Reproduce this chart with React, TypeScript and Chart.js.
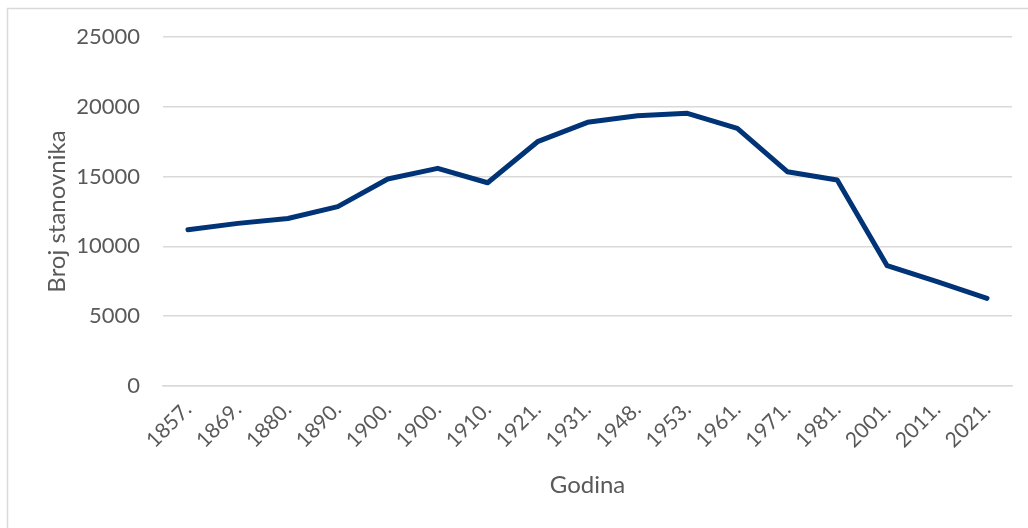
import React, { useEffect, useRef } from "react";
import { Chart, registerables } from "chart.js";

Chart.register(...registerables);

const categories: string[] = [
  "1857.", "1869.", "1880.", "1890.", "1900.", "1900.", "1910.", "1921.", "1931.",
  "1948.", "1953.", "1961.", "1971.", "1981.", "2001.", "2011.", "2021.",
];

const population: number[] = [
  11200, 11650, 12000, 12850, 14830, 15590, 14560, 17500, 18890,
  19360, 19530, 18460, 15350, 14760, 8620, 7470, 6280,
];

const yTicks: number[] = [0, 5000, 10000, 15000, 20000, 25000];

const FONT = "Lato, 'Open Sans', sans-serif";
const TEXT = "#595959";
const GRID = "#d9d9d9";

const frame = {
  id: "frame",
  beforeDraw(chart: any) {
    const ctx = chart.ctx;
    ctx.save();
    ctx.fillStyle = "#ffffff";
    ctx.fillRect(0, 0, chart.width, chart.height);
    ctx.strokeStyle = GRID;
    ctx.lineWidth = 1.5;
    ctx.strokeRect(7.5, 8.5, chart.width + 20, chart.height + 20);
    ctx.restore();
  },
};

export default function App() {
  const ref = useRef<HTMLCanvasElement | null>(null);

  useEffect(() => {
    document.body.style.margin = "0";
    if (!ref.current) return;
    const chart = new Chart(ref.current, {
      type: "line",
      data: {
        labels: categories,
        datasets: [
          {
            label: "Broj stanovnika",
            data: population,
            borderColor: "#003477",
            borderWidth: 5,
            pointRadius: 0,
            pointHoverRadius: 0,
            tension: 0,
            borderCapStyle: "round",
            borderJoinStyle: "round",
            fill: false,
          },
        ],
      },
      options: {
        animation: false,
        responsive: false,
        maintainAspectRatio: false,
        layout: { padding: { left: 0, top: 37, right: 16, bottom: 0 } },
        plugins: {
          legend: { display: false },
          tooltip: { enabled: false },
        },
        scales: {
          x: {
            offset: true,
            grid: { display: false, drawTicks: false },
            border: { display: true, color: GRID, width: 1.5 },
            ticks: {
              color: TEXT,
              font: { family: FONT, size: 21 },
              minRotation: 45,
              maxRotation: 45,
              autoSkip: false,
              padding: 11,
            },
            title: {
              display: true,
              text: "Godina",
              color: TEXT,
              font: { family: FONT, size: 24 },
              padding: { top: 0, bottom: 28 },
            },
            afterFit(scale: any) {
              scale.height = 528 - 386;
            },
          },
          y: {
            min: 0,
            max: 25000,
            afterBuildTicks(scale: any) {
              scale.ticks = yTicks.map((v) => ({ value: v }));
            },
            grid: { color: GRID, lineWidth: 1.5, drawTicks: false },
            border: { display: false },
            ticks: {
              color: TEXT,
              font: { family: FONT, size: 22 },
              padding: 23,
              callback: (v: any) => String(v),
            },
            title: {
              display: true,
              text: "Broj stanovnika",
              color: TEXT,
              font: { family: FONT, size: 24 },
              padding: { top: 43, bottom: 0 },
            },
            afterFit(scale: any) {
              scale.width = 163;
            },
          },
        },
      },
      plugins: [frame],
    });
    return () => chart.destroy();
  }, []);

  return (
    <div style={{ position: "fixed", left: 0, top: 0, width: 1028, height: 528 }}>
      <canvas ref={ref} width={1028} height={528} style={{ width: 1028, height: 528, display: "block" }} />
    </div>
  );
}
